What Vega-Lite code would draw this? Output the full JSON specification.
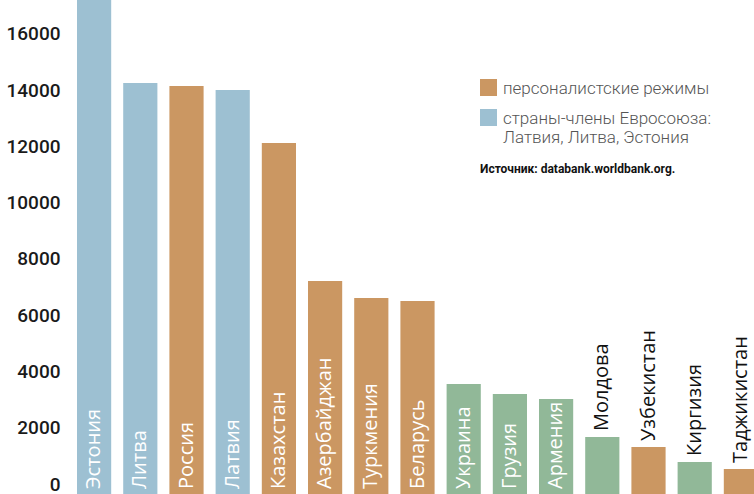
{
  "$schema": "https://vega.github.io/schema/vega-lite/v6.json",
  "autosize": "none",
  "width": 693,
  "height": 494,
  "padding": {"left": 71, "top": 0, "right": 0, "bottom": 0},
  "background": "white",
  "config": {"view": {"stroke": null}},
  "data": {
    "values": [
      {"country": "Эстония", "value": 18000, "group": "страны-члены Евросоюза"},
      {"country": "Литва", "value": 14611, "group": "страны-члены Евросоюза"},
      {"country": "Россия", "value": 14504, "group": "персоналистские режимы"},
      {"country": "Латвия", "value": 14362, "group": "страны-члены Евросоюза"},
      {"country": "Казахстан", "value": 12478, "group": "персоналистские режимы"},
      {"country": "Азербайджан", "value": 7572, "group": "персоналистские режимы"},
      {"country": "Туркмения", "value": 6968, "group": "персоналистские режимы"},
      {"country": "Беларусь", "value": 6861, "group": "персоналистские режимы"},
      {"country": "Украина", "value": 3910, "group": "прочие"},
      {"country": "Грузия", "value": 3555, "group": "прочие"},
      {"country": "Армения", "value": 3377, "group": "прочие"},
      {"country": "Молдова", "value": 2026, "group": "прочие"},
      {"country": "Узбекистан", "value": 1671, "group": "персоналистские режимы"},
      {"country": "Киргизия", "value": 1138, "group": "прочие"},
      {"country": "Таджикистан", "value": 889, "group": "персоналистские режимы"}
    ]
  },
  "encoding": {
    "x": {
      "field": "country",
      "type": "nominal",
      "sort": null,
      "scale": {"paddingInner": 0.26, "paddingOuter": 0.13},
      "axis": null
    }
  },
  "layer": [
    {
      "mark": {"type": "bar", "clip": true},
      "encoding": {
        "y": {
          "field": "value",
          "type": "quantitative",
          "scale": {"domain": [0, 17560], "nice": false},
          "axis": {
            "values": [0, 2000, 4000, 6000, 8000, 10000, 12000, 14000, 16000],
            "format": "d",
            "title": null,
            "domain": false,
            "ticks": false,
            "grid": false,
            "labelPadding": 11,
            "labelOffset": 0,
            "labelBaseline": "bottom",
            "labelFont": "Roboto",
            "labelFontSize": 19,
            "labelFontWeight": 500,
            "labelColor": "#1a1a1a",
            "labelFlush": false,
            "labelBound": false,
            "labelOverlap": false
          }
        },
        "color": {
          "field": "group",
          "type": "nominal",
          "scale": {
            "domain": ["персоналистские режимы", "страны-члены Евросоюза", "прочие"],
            "range": ["#CB9762", "#9DC0D2", "#91B898"]
          },
          "legend": {
            "values": ["персоналистские режимы", "страны-члены Евросоюза"],
            "orient": "none",
            "legendX": 409,
            "legendY": 79,
            "symbolType": "square",
            "symbolSize": 289,
            "symbolStrokeWidth": 0,
            "symbolOpacity": 1,
            "labelOffset": 6,
            "labelFont": "Roboto",
            "labelFontSize": 17,
            "labelFontWeight": 300,
            "labelColor": "#555555",
            "labelBaseline": "alphabetic",
            "labelLimit": 300,
            "labelExpr": "datum.value == 'страны-члены Евросоюза' ? ['страны-члены Евросоюза:', 'Латвия, Литва, Эстония'] : datum.label",
            "rowPadding": 12,
            "title": "Источник: databank.worldbank.org.",
            "titleOrient": "bottom",
            "titleAnchor": "start",
            "titlePadding": 18,
            "titleFont": "Roboto",
            "titleFontSize": 12,
            "titleFontWeight": "bold",
            "titleColor": "#111111",
            "titleLimit": 400,
            "encode": {
              "labels": {"update": {"dy": {"value": 6}, "lineHeight": {"value": 19}}}
            }
          }
        }
      }
    },
    {
      "transform": [{"filter": "datum.value > 2500"}],
      "mark": {
        "type": "text",
        "angle": 270,
        "align": "left",
        "baseline": "middle",
        "dx": 5,
        "font": "Open Sans",
        "fontSize": 20,
        "color": "white"
      },
      "encoding": {
        "y": {"datum": 0, "type": "quantitative"},
        "text": {"field": "country"}
      }
    },
    {
      "transform": [{"filter": "datum.value <= 2500"}],
      "mark": {
        "type": "text",
        "angle": 270,
        "align": "left",
        "baseline": "middle",
        "dx": 6,
        "font": "Open Sans",
        "fontSize": 20,
        "color": "#111111"
      },
      "encoding": {
        "y": {"field": "value", "type": "quantitative"},
        "text": {"field": "country"}
      }
    }
  ]
}
